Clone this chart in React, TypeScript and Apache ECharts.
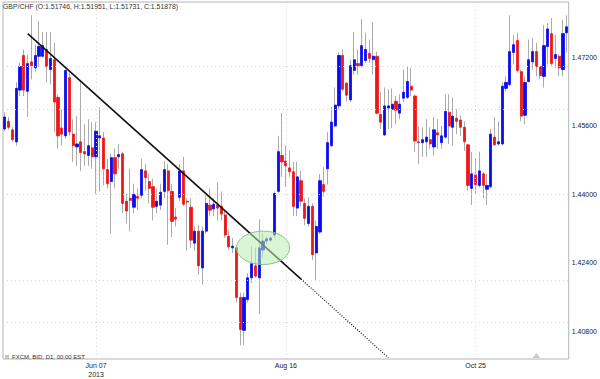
import React, { useEffect, useRef } from "react";
import * as echarts from "echarts";

const FONT = "'Liberation Sans', Arial, Helvetica, sans-serif";

// ---- categories (trading days) ----
const firstDay = "2013-05-06";
const dayCount = 149;
function tradingDays(start: string, n: number): string[] {
  const out: string[] = [];
  const d = new Date(start + "T00:00:00Z");
  while (out.length < n) {
    const wd = d.getUTCDay();
    if (wd !== 0 && wd !== 6) out.push(d.toISOString().slice(0, 10));
    d.setUTCDate(d.getUTCDate() + 1);
  }
  return out;
}
const categories = tradingDays(firstDay, dayCount);

// ---- OHLC values ----
const opens = [
  1.4553, 1.4571, 1.4551, 1.4523, 1.4644, 1.4725, 1.4641, 1.4710, 1.4696, 1.4723,
  1.4723, 1.4739, 1.4692, 1.4715, 1.4627, 1.4555, 1.4537, 1.4673, 1.4541, 1.4511,
  1.4523, 1.4500, 1.4491, 1.4509, 1.4488, 1.4532, 1.4532, 1.4458, 1.4430, 1.4486,
  1.4488, 1.4495, 1.4384, 1.4391, 1.4370, 1.4395, 1.4398, 1.4455, 1.4430, 1.4418,
  1.4372, 1.4375, 1.4407, 1.4455, 1.4407, 1.4347, 1.4393, 1.4455, 1.4384, 1.4370,
  1.4286, 1.4314, 1.4228, 1.4314, 1.4375, 1.4366, 1.4375, 1.4372, 1.4352, 1.4302,
  1.4275, 1.4275, 1.4159, 1.4082, 1.4154, 1.4205, 1.4233, 1.4205, 1.4270, 1.4291,
  1.4293, 1.4305, 1.4407, 1.4491, 1.4478, 1.4462, 1.4453, 1.4368, 1.4432, 1.4379,
  1.4332, 1.4372, 1.4263, 1.4312, 1.4423, 1.4460, 1.4514, 1.4560, 1.4607, 1.4725,
  1.4660, 1.4621, 1.4690, 1.4706, 1.4701, 1.4713, 1.4730, 1.4715, 1.4723, 1.4587,
  1.4539, 1.4602, 1.4599, 1.4618, 1.4590, 1.4625, 1.4627, 1.4653, 1.4630, 1.4523,
  1.4521, 1.4523, 1.4528, 1.4511, 1.4544, 1.4521, 1.4534, 1.4592, 1.4557, 1.4578,
  1.4574, 1.4557, 1.4516, 1.4414, 1.4446, 1.4421, 1.4448, 1.4412, 1.4418, 1.4534,
  1.4518, 1.4518, 1.4648, 1.4657, 1.4732, 1.4760, 1.4687, 1.4585, 1.4664, 1.4710,
  1.4734, 1.4699, 1.4676, 1.4746, 1.4776, 1.4718, 1.4723, 1.4692, 1.4778,
];
const closes = [
  1.4581, 1.4557, 1.4528, 1.4648, 1.4699, 1.4644, 1.4706, 1.4701, 1.4725, 1.4746,
  1.4748, 1.4699, 1.4718, 1.4616, 1.4537, 1.4541, 1.4690, 1.4546, 1.4514, 1.4518,
  1.4498, 1.4495, 1.4514, 1.4488, 1.4548, 1.4537, 1.4460, 1.4425, 1.4486, 1.4448,
  1.4493, 1.4379, 1.4361, 1.4386, 1.4400, 1.4391, 1.4458, 1.4439, 1.4414, 1.4370,
  1.4384, 1.4405, 1.4458, 1.4409, 1.4337, 1.4342, 1.4455, 1.4377, 1.4382, 1.4293,
  1.4314, 1.4233, 1.4314, 1.4379, 1.4363, 1.4377, 1.4368, 1.4354, 1.4305, 1.4277,
  1.4279, 1.4159, 1.4084, 1.4159, 1.4205, 1.4238, 1.4209, 1.4275, 1.4291, 1.4296,
  1.4298, 1.4402, 1.4500, 1.4476, 1.4467, 1.4453, 1.4372, 1.4441, 1.4384, 1.4344,
  1.4372, 1.4259, 1.4325, 1.4432, 1.4407, 1.4521, 1.4569, 1.4609, 1.4725, 1.4646,
  1.4632, 1.4701, 1.4715, 1.4701, 1.4748, 1.4739, 1.4718, 1.4723, 1.4590, 1.4569,
  1.4607, 1.4607, 1.4611, 1.4597, 1.4611, 1.4639, 1.4664, 1.4644, 1.4525, 1.4521,
  1.4528, 1.4534, 1.4518, 1.4551, 1.4539, 1.4537, 1.4594, 1.4560, 1.4583, 1.4571,
  1.4557, 1.4523, 1.4421, 1.4448, 1.4423, 1.4455, 1.4421, 1.4421, 1.4541, 1.4516,
  1.4523, 1.4653, 1.4662, 1.4734, 1.4750, 1.4690, 1.4583, 1.4662, 1.4715, 1.4734,
  1.4699, 1.4678, 1.4748, 1.4787, 1.4706, 1.4727, 1.4696, 1.4776, 1.4792,
];
const lows = [
  1.4548, 1.4551, 1.4523, 1.4514, 1.4630, 1.4630, 1.4581, 1.4669, 1.4687, 1.4699,
  1.4720, 1.4662, 1.4657, 1.4546, 1.4507, 1.4514, 1.4530, 1.4537, 1.4476, 1.4467,
  1.4455, 1.4467, 1.4467, 1.4460, 1.4402, 1.4407, 1.4421, 1.4414, 1.4309, 1.4414,
  1.4460, 1.4356, 1.4332, 1.4314, 1.4356, 1.4363, 1.4391, 1.4409, 1.4379, 1.4339,
  1.4356, 1.4363, 1.4391, 1.4282, 1.4300, 1.4325, 1.4384, 1.4372, 1.4268, 1.4275,
  1.4268, 1.4212, 1.4189, 1.4309, 1.4349, 1.4349, 1.4339, 1.4339, 1.4298, 1.4270,
  1.4263, 1.4147, 1.4047, 1.4047, 1.4147, 1.4193, 1.4205, 1.4120, 1.4252, 1.4284,
  1.4289, 1.4298, 1.4402, 1.4441, 1.4418, 1.4441, 1.4349, 1.4349, 1.4372, 1.4328,
  1.4325, 1.4247, 1.4200, 1.4307, 1.4395, 1.4423, 1.4511, 1.4557, 1.4599, 1.4641,
  1.4618, 1.4616, 1.4680, 1.4680, 1.4699, 1.4708, 1.4708, 1.4680, 1.4587, 1.4553,
  1.4537, 1.4553, 1.4555, 1.4564, 1.4576, 1.4616, 1.4623, 1.4630, 1.4500, 1.4471,
  1.4488, 1.4488, 1.4507, 1.4491, 1.4507, 1.4507, 1.4530, 1.4518, 1.4514, 1.4541,
  1.4537, 1.4502, 1.4409, 1.4375, 1.4402, 1.4416, 1.4391, 1.4375, 1.4414, 1.4514,
  1.4514, 1.4514, 1.4641, 1.4653, 1.4704, 1.4685, 1.4571, 1.4564, 1.4662, 1.4692,
  1.4676, 1.4669, 1.4650, 1.4704, 1.4701, 1.4696, 1.4676, 1.4676, 1.4732,
];
const highs = [
  1.4592, 1.4581, 1.4557, 1.4662, 1.4708, 1.4739, 1.4727, 1.4819, 1.4750, 1.4806,
  1.4780, 1.4780, 1.4780, 1.4755, 1.4634, 1.4599, 1.4692, 1.4685, 1.4576, 1.4583,
  1.4662, 1.4564, 1.4576, 1.4569, 1.4569, 1.4604, 1.4546, 1.4483, 1.4495, 1.4507,
  1.4518, 1.4500, 1.4402, 1.4460, 1.4425, 1.4414, 1.4483, 1.4471, 1.4448, 1.4437,
  1.4414, 1.4425, 1.4478, 1.4471, 1.4425, 1.4368, 1.4471, 1.4488, 1.4391, 1.4391,
  1.4325, 1.4328, 1.4325, 1.4398, 1.4414, 1.4391, 1.4428, 1.4407, 1.4363, 1.4316,
  1.4298, 1.4279, 1.4170, 1.4170, 1.4216, 1.4279, 1.4275, 1.4342, 1.4309, 1.4302,
  1.4302, 1.4407, 1.4537, 1.4590, 1.4514, 1.4502, 1.4476, 1.4476, 1.4455, 1.4391,
  1.4393, 1.4379, 1.4339, 1.4448, 1.4464, 1.4546, 1.4604, 1.4650, 1.4732, 1.4739,
  1.4662, 1.4715, 1.4780, 1.4739, 1.4810, 1.4778, 1.4762, 1.4803, 1.4734, 1.4639,
  1.4650, 1.4646, 1.4648, 1.4630, 1.4634, 1.4692, 1.4699, 1.4696, 1.4634, 1.4560,
  1.4557, 1.4576, 1.4557, 1.4581, 1.4576, 1.4560, 1.4634, 1.4634, 1.4627, 1.4599,
  1.4585, 1.4571, 1.4518, 1.4500, 1.4483, 1.4500, 1.4453, 1.4448, 1.4553, 1.4581,
  1.4571, 1.4662, 1.4676, 1.4819, 1.4773, 1.4778, 1.4692, 1.4676, 1.4762, 1.4766,
  1.4755, 1.4699, 1.4796, 1.4801, 1.4812, 1.4773, 1.4727, 1.4808, 1.4819,
];

// ---- axis ticks ----
const xTickIndex = [24, 74, 124];
const xTickLabels = ["Jun 07\n2013", "Aug 16", "Oct 25"];
const yTickValues = [1.408, 1.424, 1.44, 1.456, 1.472];
const yMin = 1.4015;
const yMax = 1.485;

// ---- annotations (data coordinates: [category index, price]) ----
const trendSolid = [[6, 1.4776], [78, 1.4202]];
const trendDotted = [[78, 1.4202], [101, 1.4018]];
const ellipseCenter = [68, 1.4275];
const ellipseRadius = [7, 0.0039];
const eventMarkerIndex = 140;

const titleText = "GBP/CHF (O:1.51746, H:1.51951, L:1.51731, C:1.51878)";
const footText = "FXCM, BID, D1, 00:00 EST";

export default function App() {
  const ref = useRef<HTMLDivElement>(null);

  useEffect(() => {
    document.body.style.margin = "0";
    const chart = echarts.init(ref.current!, null, { renderer: "svg" });

    const wickData = categories.map((_, i) => [opens[i], closes[i], lows[i], highs[i]]);
    const bodyData = categories.map((_, i) => [
      opens[i],
      closes[i],
      Math.min(opens[i], closes[i]),
      Math.max(opens[i], closes[i]),
    ]);

    const gridLineStyle = { color: "#d6d6d6", type: [1, 3] as any, width: 1 };

    chart.setOption({
      animation: false,
      backgroundColor: "#ffffff",
      grid: {
        left: 3,
        right: 31,
        top: 2,
        bottom: 17,
        show: true,
        borderColor: "#b4b4b4",
        borderWidth: 1,
        backgroundColor: "transparent",
      },
      xAxis: {
        type: "category",
        data: categories,
        boundaryGap: true,
        axisLine: { show: false },
        axisTick: { show: false },
        splitLine: { show: false },
        axisLabel: {
          interval: (idx: number) => xTickIndex.includes(idx),
          formatter: (_v: string, idx: number) => {
            const k = xTickIndex.indexOf(idx);
            return k >= 0 ? xTickLabels[k] : "";
          },
          fontSize: 7,
          lineHeight: 9,
          margin: 2,
          color: "#222",
          fontFamily: FONT,
        },
      },
      yAxis: {
        type: "value",
        position: "right",
        min: yMin,
        max: yMax,
        scale: true,
        axisLine: { show: false },
        axisTick: { show: false },
        splitLine: { show: false },
        axisLabel: {
          customValues: yTickValues,
          formatter: (v: number) => v.toFixed(5),
          fontSize: 7,
          margin: 3,
          color: "#222",
          fontFamily: FONT,
        },
      },
      series: [
        {
          type: "candlestick",
          name: "wicks",
          data: wickData,
          barWidth: 1,
          itemStyle: {
            color: "#ababab",
            color0: "#ababab",
            borderColor: "#ababab",
            borderColor0: "#ababab",
            borderWidth: 1,
          },
          markLine: {
            silent: true,
            symbol: ["none", "none"],
            label: { show: false },
            lineStyle: gridLineStyle,
            data: [
              ...yTickValues.map((v) => ({ yAxis: v })),
              ...xTickIndex.map((i) => ({ xAxis: categories[i] })),
            ],
          },
          z: 2,
        },
        {
          type: "candlestick",
          name: "bodies",
          data: bodyData,
          barWidth: 2.7,
          itemStyle: {
            color: "#0b0bf0",
            color0: "#f01616",
            borderColor: "#0b0bf0",
            borderColor0: "#f01616",
            borderWidth: 0.8,
          },
          z: 3,
        },
        {
          type: "line",
          name: "trend",
          data: trendSolid,
          symbol: "none",
          lineStyle: { color: "#111", width: 1.6 },
          z: 5,
        },
        {
          type: "line",
          name: "trendExt",
          data: trendDotted,
          symbol: "none",
          lineStyle: { color: "#111", width: 1.2, type: [1, 1.6] as any },
          z: 5,
        },
      ],
    });

    const finder = { gridIndex: 0 };
    const c = chart.convertToPixel(finder, ellipseCenter) as number[];
    const cx2 = chart.convertToPixel(finder, [
      ellipseCenter[0] + ellipseRadius[0],
      ellipseCenter[1],
    ]) as number[];
    const cy2 = chart.convertToPixel(finder, [
      ellipseCenter[0],
      ellipseCenter[1] + ellipseRadius[1],
    ]) as number[];
    const ev = chart.convertToPixel(finder, [eventMarkerIndex, yMin]) as number[];

    chart.setOption({
      graphic: [
        {
          type: "text",
          left: 3,
          top: 3,
          style: {
            text: titleText,
            fontSize: 6.9,
            fontFamily: FONT,
            fill: "#333",
          },
          z: 10,
        },
        {
          type: "ellipse",
          shape: { cx: c[0], cy: c[1], rx: cx2[0] - c[0], ry: c[1] - cy2[1] },
          style: {
            fill: "rgba(186, 238, 176, 0.55)",
            stroke: "#86c286",
            lineWidth: 1,
          },
          z: 8,
        },
        {
          type: "polygon",
          shape: {
            points: [
              [ev[0] - 4, ev[1] - 1],
              [ev[0] + 4, ev[1] - 1],
              [ev[0], ev[1] - 6],
            ],
          },
          style: { fill: "#cccccc" },
          z: 8,
        },
        {
          type: "rect",
          shape: { x: 5, y: 355, width: 4, height: 4 },
          style: { fill: "#c4c4c4" },
          z: 10,
        },
        {
          type: "text",
          left: 12,
          top: 354,
          style: {
            text: footText,
            fontSize: 6,
            fontFamily: FONT,
            fill: "#333",
          },
          z: 10,
        },
      ],
    });

    return () => chart.dispose();
  }, []);

  return (
    <div
      ref={ref}
      style={{ position: "absolute", left: 0, top: 0, width: 600, height: 379 }}
    />
  );
}
